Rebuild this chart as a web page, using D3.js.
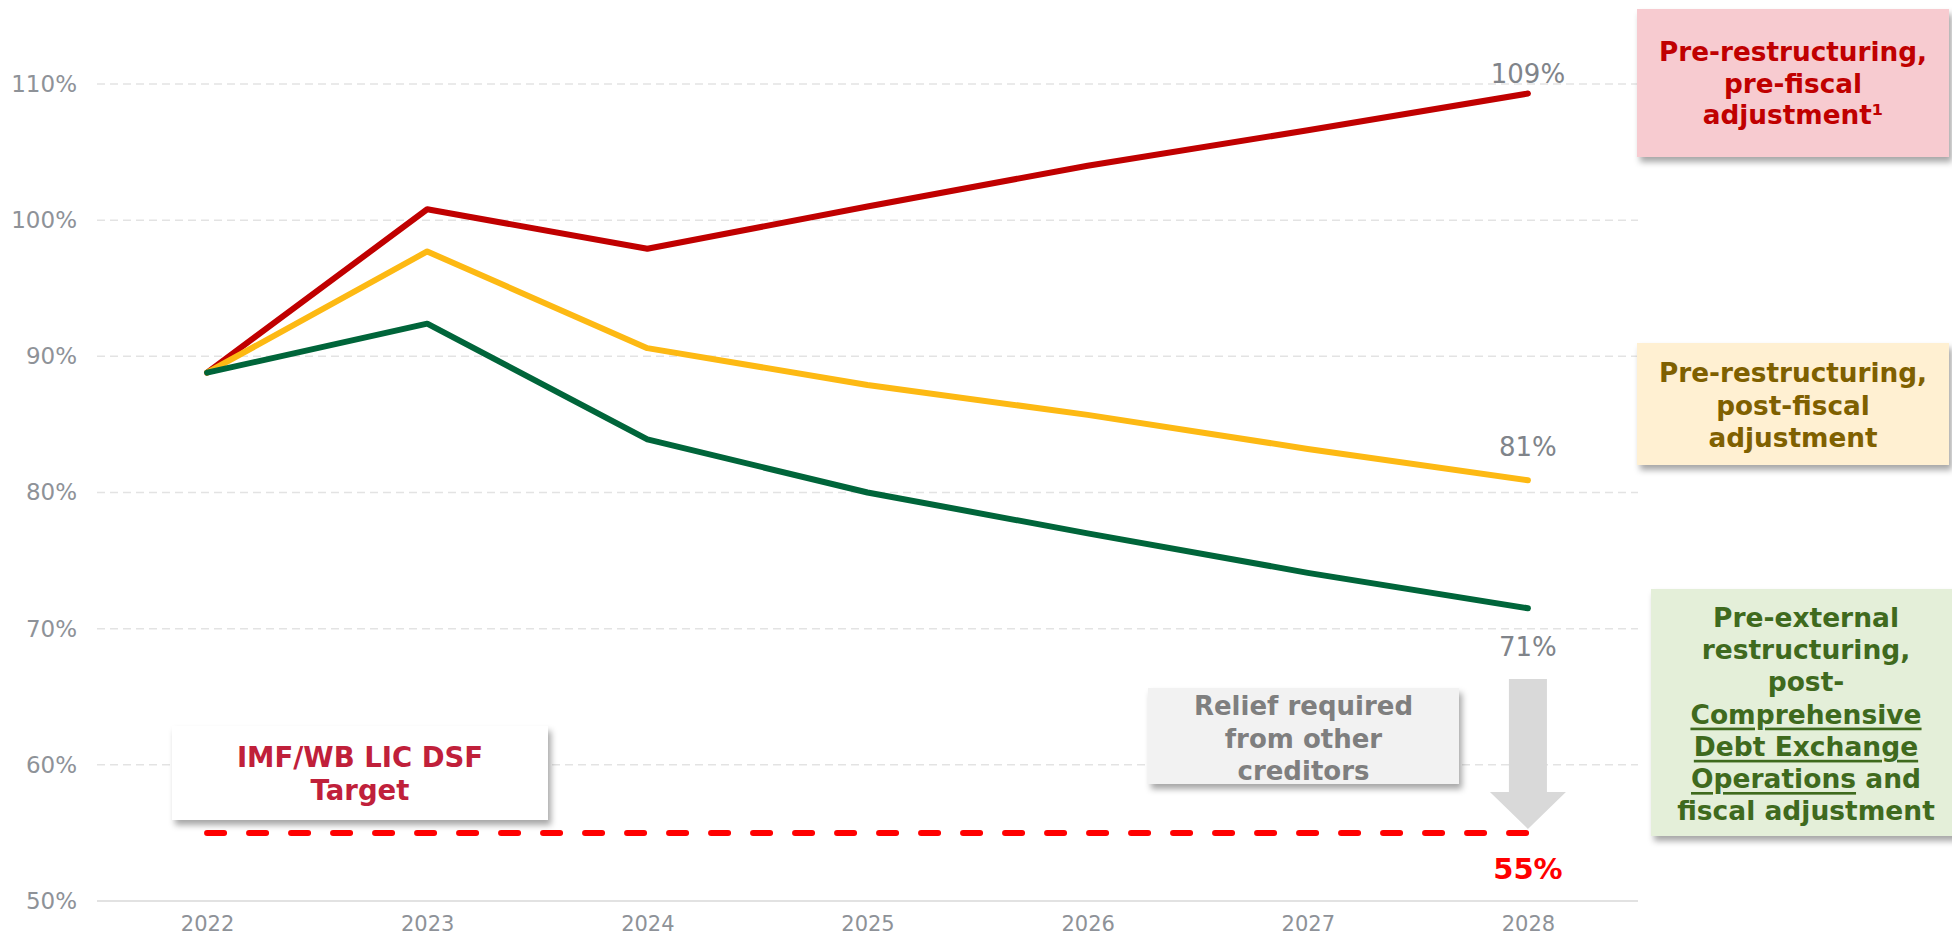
<!DOCTYPE html>
<html>
<head>
<meta charset="utf-8">
<script src="https://cdn.jsdelivr.net/npm/d3@7"></script>
<style>
  html, body { margin: 0; padding: 0; background: #fff; }
  svg { display: block; }
  text { font-family: "DejaVu Sans", Verdana, sans-serif; }
</style>
</head>
<body>
<svg id="chart" width="1952" height="940"></svg>
<script>
// ---------- DATA ----------
const years = ["2022", "2023", "2024", "2025", "2026", "2027", "2028"];
const preRestructuringPreFiscal  = [88.8, 100.8, 97.9, 101.0, 104.0, 106.6, 109.3];
const preRestructuringPostFiscal = [88.8, 97.7, 90.6, 87.9, 85.7, 83.2, 80.9];
const postCDEOFiscal             = [88.8, 92.4, 83.9, 80.0, 77.0, 74.1, 71.5];
const yTicks = [50, 60, 70, 80, 90, 100, 110];
const targetValue = 55;
const endLabels = ["109%", "81%", "71%"];
const targetLabel = "55%";
const targetBoxLines = ["IMF/WB LIC DSF", "Target"];
const reliefBoxLines = ["Relief required", "from other", "creditors"];
const legendRedLines = ["Pre-restructuring,", "pre-fiscal", "adjustment\u00B9"];
const legendYellowLines = ["Pre-restructuring,", "post-fiscal", "adjustment"];
// green legend: each line is a list of [text, underlined]
const legendGreenLines = [
  [["Pre-external", false]],
  [["restructuring,", false]],
  [["post-", false]],
  [["Comprehensive", true]],
  [["Debt Exchange", true]],
  [["Operations", true], [" and", false]],
  [["fiscal adjustment", false]]
];

// ---------- LAYOUT ----------
const svg = d3.select("#chart");
const plotLeft = 97, plotRight = 1638;
const x = d3.scalePoint().domain(years).range([plotLeft, plotRight]).padding(0.5);
const y = d3.scaleLinear().domain([50, 110]).range([901, 84]);

const defs = svg.append("defs");
const sh = defs.append("filter").attr("id", "shadow")
  .attr("x", "-10%").attr("y", "-10%").attr("width", "130%").attr("height", "140%");
sh.append("feDropShadow").attr("dx", 3).attr("dy", 5).attr("stdDeviation", 3)
  .attr("flood-color", "#000").attr("flood-opacity", 0.35);

// Gridlines
svg.append("g").selectAll("line").data(yTicks.filter(d => d !== 50)).join("line")
  .attr("x1", plotLeft).attr("x2", plotRight)
  .attr("y1", d => y(d)).attr("y2", d => y(d))
  .attr("stroke", "#E3E3E3").attr("stroke-width", 1.5)
  .attr("stroke-dasharray", "8,5");

// x baseline
svg.append("line")
  .attr("x1", plotLeft).attr("x2", plotRight)
  .attr("y1", y(50)).attr("y2", y(50))
  .attr("stroke", "#D9D9D9").attr("stroke-width", 1.5);

// Y axis labels
const yAxis = d3.axisLeft(y).tickValues(yTicks).tickFormat(d => d + "%").tickSize(0).tickPadding(0);
const gy = svg.append("g").attr("transform", "translate(77,0)").call(yAxis);
gy.select(".domain").remove();
gy.selectAll("text").attr("font-size", 23).attr("fill", "#8E9298")
  .attr("font-family", "DejaVu Sans, Verdana, sans-serif");

// X axis labels
const xAxis = d3.axisBottom(x).tickSize(0).tickPadding(0);
const gx = svg.append("g").attr("transform", "translate(0,916)").call(xAxis);
gx.select(".domain").remove();
gx.selectAll("text").attr("font-size", 21).attr("fill", "#8E9298")
  .attr("font-family", "DejaVu Sans, Verdana, sans-serif");

// Lines
const line = d3.line().x((d, i) => x(years[i])).y(d => y(d));
const series = [
  { values: preRestructuringPreFiscal, color: "#C00000" },
  { values: preRestructuringPostFiscal, color: "#FDB913" },
  { values: postCDEOFiscal, color: "#00653A" }
];
svg.append("g").selectAll("path").data(series).join("path")
  .attr("d", d => line(d.values))
  .attr("fill", "none").attr("stroke", d => d.color)
  .attr("stroke-width", 6).attr("stroke-linejoin", "round").attr("stroke-linecap", "round");

// Target dashed line
svg.append("line")
  .attr("x1", x(years[0])).attr("x2", x(years[years.length - 1]))
  .attr("y1", y(targetValue)).attr("y2", y(targetValue))
  .attr("stroke", "#FF0000").attr("stroke-width", 6)
  .attr("stroke-dasharray", "17,25").attr("stroke-linecap", "round");

// End labels
const lastX = x(years[years.length - 1]);
const endOffsets = [-11, -24, 48];
const lastVals = [preRestructuringPreFiscal, preRestructuringPostFiscal, postCDEOFiscal].map(a => a[a.length - 1]);
svg.append("g").selectAll("text").data(endLabels).join("text")
  .attr("x", lastX).attr("y", (d, i) => y(lastVals[i]) + endOffsets[i])
  .attr("text-anchor", "middle").attr("font-size", 26).attr("fill", "#80848A")
  .text(d => d);

svg.append("text").attr("x", lastX).attr("y", y(targetValue) + 46)
  .attr("text-anchor", "middle").attr("font-size", 29).attr("font-weight", "bold")
  .attr("fill", "#FF0000").text(targetLabel);

// Relief arrow
const ax = lastX;
const arrowTop = 679, headTop = 792, tip = y(targetValue) - 4;
const shaftHalf = 19, headHalf = 38;
svg.append("path")
  .attr("d", `M${ax - shaftHalf},${arrowTop} L${ax + shaftHalf},${arrowTop} L${ax + shaftHalf},${headTop} L${ax + headHalf},${headTop} L${ax},${tip} L${ax - headHalf},${headTop} L${ax - shaftHalf},${headTop} Z`)
  .attr("fill", "#D9D9D9");

// Boxes helper
function textBox(bx, by, bw, bh, fill, color, lines, size, lineH, firstY) {
  const g = svg.append("g");
  g.append("rect").attr("x", bx).attr("y", by).attr("width", bw).attr("height", bh)
    .attr("fill", fill).attr("filter", "url(#shadow)");
  g.selectAll("text").data(lines).join("text")
    .attr("x", bx + bw / 2).attr("y", (d, i) => firstY + i * lineH)
    .attr("text-anchor", "middle").attr("dominant-baseline", "central")
    .attr("font-size", size).attr("font-weight", "bold").attr("fill", color)
    .text(d => d);
  return g;
}

textBox(172, 726, 376, 94, "#FFFFFF", "#C0203A", targetBoxLines, 27.5, 33, 757);
textBox(1148, 688, 311, 96, "#F2F2F2", "#7F7F7F", reliefBoxLines, 26, 32.5, 706);
textBox(1637, 9, 312, 148, "#F7CBD0", "#C00000", legendRedLines, 26.3, 31.5, 52);
textBox(1637, 343, 312, 122, "#FFF0D2", "#7F6000", legendYellowLines, 26.3, 32.5, 373);

// Green legend with underlines
const gbx = 1651, gby = 589, gbw = 301, gbh = 247;
const gg = svg.append("g");
gg.append("rect").attr("x", gbx).attr("y", gby).attr("width", gbw + 10).attr("height", gbh)
  .attr("fill", "#E4EFD9").attr("filter", "url(#shadow)");
gg.selectAll("text").data(legendGreenLines).join("text")
  .attr("x", 1806).attr("y", (d, i) => 617 + i * 32.2)
  .attr("text-anchor", "middle").attr("dominant-baseline", "central")
  .attr("font-size", 26.5).attr("font-weight", "bold").attr("fill", "#3F6A1E")
  .selectAll("tspan").data(d => d).join("tspan")
  .attr("text-decoration", d => d[1] ? "underline" : null)
  .style("text-decoration", d => d[1] ? "underline" : null)
  .text(d => d[0]);
</script>
</body>
</html>
